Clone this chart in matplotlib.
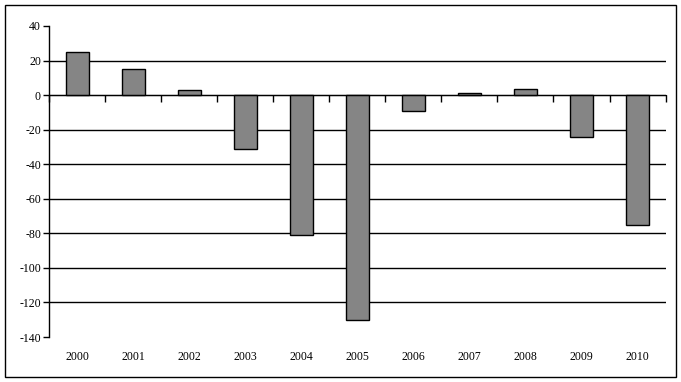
import matplotlib
matplotlib.use('Agg')
import matplotlib.pyplot as plt
from matplotlib.patches import Rectangle
import numpy as np

# Daten
years = ['2000', '2001', '2002', '2003', '2004', '2005', '2006', '2007', '2008', '2009', '2010']
values = [25, 15, 3, -31, -81, -130, -9, 1, 3.5, -24, -75]
y_ticks = [40, 20, 0, -20, -40, -60, -80, -100, -120, -140]

plt.rcParams['font.family'] = 'Liberation Serif'

fig = plt.figure(figsize=(6.81, 3.82), dpi=100)
ax = fig.add_axes([0.0724, 0.1178, 0.9049, 0.8142])

x = np.arange(len(years))
ax.bar(x, values, width=0.4, color='#858585', edgecolor='black', linewidth=1, zorder=3)

ax.set_xlim(-0.5, len(years) - 0.5)
ax.set_ylim(-140, 40)
ax.set_yticks(y_ticks)
ax.set_yticklabels([str(v) for v in y_ticks], fontsize=8.5)
ax.tick_params(axis='y', direction='out', length=4, width=1, pad=2)

# horizontale Gitterlinien (ohne 40 und -140)
for v in y_ticks[1:-1]:
    ax.axhline(v, color='black', linewidth=1, zorder=1)

# x-Achse auf Nulllinie mit Strichen zwischen den Kategorien
ax.spines['top'].set_visible(False)
ax.spines['right'].set_visible(False)
ax.spines['bottom'].set_position(('data', 0))
ax.spines['bottom'].set_zorder(4)
ax.spines['left'].set_linewidth(1)
ax.set_xticks(np.arange(len(years) + 1) - 0.5)
ax.set_xticklabels([])
ax.tick_params(axis='x', direction='out', length=5, width=1)

# Jahreszahlen unten
sec = ax.secondary_xaxis(0)
sec.set_xticks(x)
sec.set_xticklabels(years, fontsize=8.5)
sec.tick_params(axis='x', length=0, pad=10)
sec.spines['bottom'].set_visible(False)

# Rahmen um das Diagramm
fig.patches.append(Rectangle((5 / 681, 5 / 382), 671 / 681, 372 / 382,
                             transform=fig.transFigure, fill=False,
                             edgecolor='black', linewidth=1))

fig.savefig('out.png', dpi=100)
